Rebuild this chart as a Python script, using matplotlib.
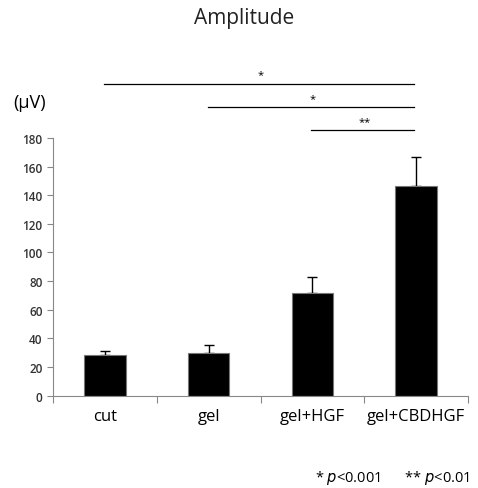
import matplotlib
matplotlib.use("Agg")
import matplotlib.pyplot as plt

plt.rcParams['font.family'] = ['Open Sans', 'DejaVu Sans']

# data
groups = ['cut', 'gel', 'gel+HGF', 'gel+CBDHGF']
amplitude = [28.6, 29.8, 71.9, 146.2]
sem = [2.4, 5.8, 11.2, 20.7]
# significance brackets: (start group, end group, height, label)
sig_start = [0, 1, 2]
sig_end = [3, 3, 3]
sig_level = [217.7, 201.4, 185.3]
sig_label = ['*', '*', '**']
yticks = [0, 20, 40, 60, 80, 100, 120, 140, 160, 180]

fig = plt.figure(figsize=(4.78, 4.89), dpi=100)
ax = fig.add_axes([0.111, 0.189, 0.868, 0.527])

x = range(len(groups))
ax.bar(x, amplitude, width=0.4, color='black', edgecolor='#777777',
       linewidth=0.8, zorder=2)
ax.errorbar(x, amplitude, yerr=[[0] * len(sem), sem], fmt='none',
            ecolor='black', elinewidth=1, capsize=3.5, capthick=1, zorder=1)

ax.set_xlim(-0.5, 3.5)
ax.set_ylim(0, 180)
ax.set_yticks(yticks)
ax.tick_params(axis='y', labelsize=8.5, colors='#888888', labelcolor='#333333',
               length=4.5, width=0.8, pad=3)
for lab in ax.get_yticklabels():
    lab.set_fontweight('semibold')

# category ticks sit on the boundaries, labels at the centres
ax.set_xticks([-0.5, 0.5, 1.5, 2.5, 3.5])
ax.set_xticklabels([])
ax.set_xticks(list(x), minor=True)
ax.set_xticklabels(groups, minor=True, fontsize=12)
ax.tick_params(axis='x', which='major', length=5, width=0.8, colors='#888888')
ax.tick_params(axis='x', which='minor', length=0, pad=9, labelcolor='black')

for side in ['top', 'right']:
    ax.spines[side].set_visible(False)
for side in ['left', 'bottom']:
    ax.spines[side].set_color('#888888')
    ax.spines[side].set_linewidth(0.8)

for s, e, h, lab in zip(sig_start, sig_end, sig_level, sig_label):
    ax.plot([s - 0.01, e - 0.02], [h, h], color='black', lw=0.9, clip_on=False)
    ax.text((s + e) / 2, h + 2.5, lab, ha='center', va='bottom', fontsize=8,
            clip_on=False)

fig.text(0.028, 0.79, '(μV)', fontsize=13, ha='left', va='center')
fig.text(0.51, 0.962, 'Amplitude', fontsize=15, ha='center', va='center',
         color='#222222')
fig.text(0.658, 0.022, '* $\\it{p}$<0.001      ** $\\it{p}$<0.01', fontsize=10.5,
         ha='left', va='center')

fig.savefig('out.png', dpi=100)
